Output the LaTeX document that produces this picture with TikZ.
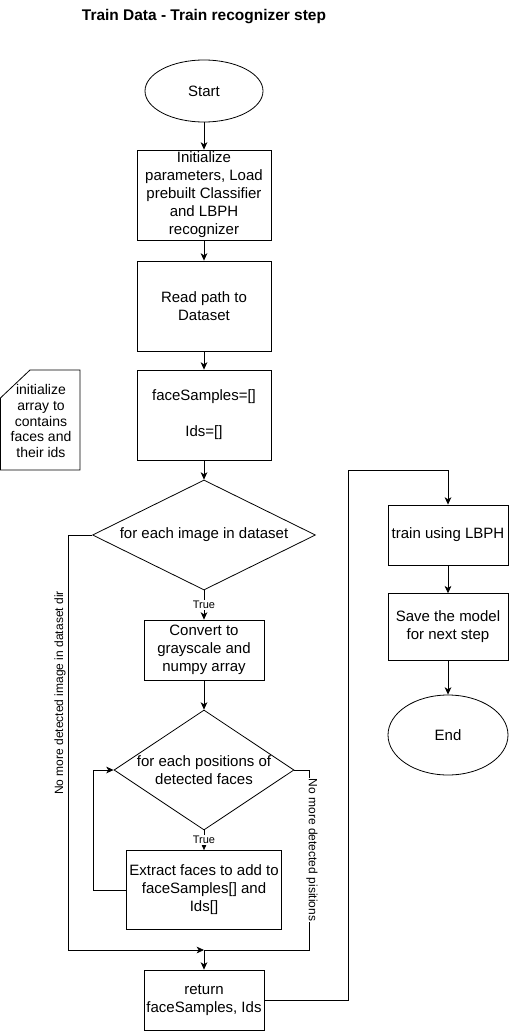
\documentclass[tikz,border=0pt]{standalone}
\usepackage{fontspec}
\setmainfont{Liberation Sans}
\usetikzlibrary{arrows.meta,shapes.geometric}
\tikzset{
  stepbox/.style={draw, rectangle, align=center, inner sep=1pt, font=\fontsize{11.25}{13.5}\selectfont},
  termnode/.style={draw, ellipse, inner sep=0pt, font=\fontsize{11.25}{13.5}\selectfont},
  choice/.style={draw, diamond, inner sep=0pt},
  choicetext/.style={align=center, font=\fontsize{11.25}{13.5}\selectfont},
  truelabel/.style={fill=white, inner sep=1pt, font=\fontsize{8.25}{9}\selectfont},
  looplabel/.style={inner sep=1pt, font=\fontsize{9}{10}\selectfont},
}
\begin{document}
\begin{tikzpicture}[x=0.75pt,y=-0.75pt,>={Stealth[length=5.5pt,width=5pt,inset=1.5pt]},line width=0.6pt]
      \useasboundingbox (0,0) rectangle (509,1031);
      \node (title) at (204,17) {\fontsize{11.6}{13}\selectfont\bfseries Train Data - Train recognizer step};
      % left column
      \node (start) at (204,91) [termnode, minimum width=88.5pt, minimum height=46.5pt] {Start};
      \node (init) at (204,195) [stepbox, minimum width=100.5pt, minimum height=67.5pt] {Initialize\\parameters, Load\\prebuilt Classifier\\and LBPH\\recognizer};
      \node (path) at (204,306) [stepbox, minimum width=100.5pt, minimum height=67.5pt] {Read path to\\Dataset};
      \node (arrays) at (204,415) [stepbox, minimum width=100.5pt, minimum height=67.5pt] {faceSamples=[]\\[13.5pt]Ids=[]};
      \draw (0.4,398) -- (30,370) -- (80,370) -- (80,470) -- (0.4,470) -- cycle;
      \node (note) at (41,421) [align=center, font=\fontsize{10.5}{11.8}\selectfont] {initialize\\array to\\contains\\faces and\\their ids};
      \node (eachimg) at (204,535) [choice, minimum width=167.25pt, minimum height=82.5pt] {};
      \node (eachimgtext) at (eachimg) [choicetext] {for each image in dataset};
      \node (gray) at (204,650) [stepbox, minimum width=90pt, minimum height=45pt] {Convert to\\grayscale and\\numpy array};
      \node (eachpos) at (204,770) [choice, minimum width=135pt, minimum height=90pt] {};
      \node (eachpostext) at (eachpos) [choicetext] {for each positions of\\detected faces};
      \node (extract) at (204,890) [stepbox, minimum width=116.25pt, minimum height=59.25pt] {Extract faces to add to\\faceSamples[] and\\Ids[]};
      \node (ret) at (204,1000) [stepbox, minimum width=90pt, minimum height=45pt] {return\\faceSamples, Ids};
      % right column
      \node (train) at (448,535) [stepbox, minimum width=90pt, minimum height=45pt] {train using LBPH};
      \node (save) at (448,627) [stepbox, minimum width=90pt, minimum height=50pt] {Save the model\\for next step};
      \node (end) at (448,735) [termnode, minimum width=90pt, minimum height=60pt] {End};
      \coordinate (merge) at (204,950);
      \coordinate (turn) at (348,470);
      % connectors
      \draw[->] (start) -- (init);
      \draw[->] (init) -- (path);
      \draw[->] (path) -- (arrays);
      \draw[->] (arrays) -- (eachimg.north);
      \draw[->] (eachimg.south) -- (gray) node[midway, truelabel] {True};
      \draw[->] (gray) -- (eachpos.north);
      \draw[->] (eachpos.south) -- (extract) node[midway, truelabel] {True};
      \draw[->] (extract.west) -- ++(-33,0) |- (eachpos.west);
      \draw[->] (eachimg.west) -- ++(-24,0) |- (merge);
      \node (nomoreimg) at (60,693) [looplabel, rotate=90] {No more detected image in dataset dir};
      \draw[->] (eachpos.east) -- ++(15,0) |- (merge) -- (ret);
      \node (nomorepos) at (312,850) [looplabel, fill=white, rotate=-90] {No more detected pisitions};
      \draw[->] (ret.east) -| (turn) -| (train.north);
      \draw[->] (train) -- (save);
      \draw[->] (save) -- (end);
\end{tikzpicture}
\end{document}
